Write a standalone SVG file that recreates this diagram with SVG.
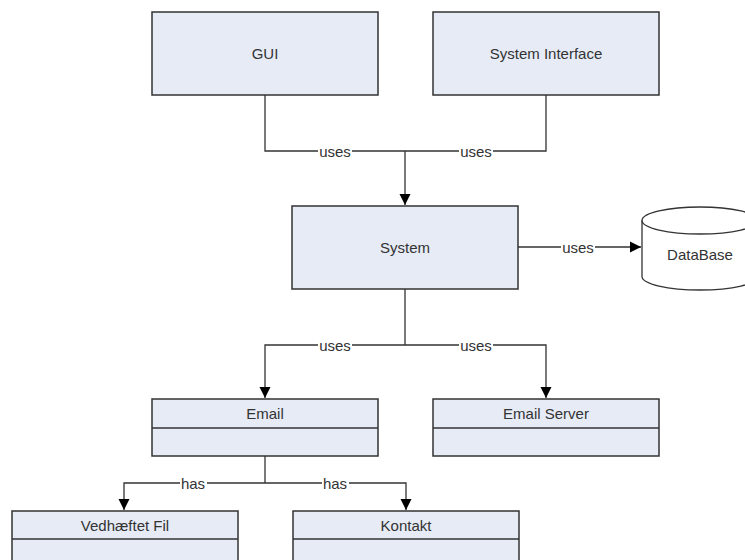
<svg xmlns="http://www.w3.org/2000/svg" width="745" height="560" viewBox="0 0 745 560">
  <style>
    .box { fill: #E6EBF6; stroke: #333; stroke-width: 1.5; }
    .div { stroke: #333; stroke-width: 1.5; }
    .lbl { font-family: "Liberation Sans", Arial, sans-serif; font-size: 15px; fill: #333; text-anchor: middle; dominant-baseline: central; }
    .edge { fill: none; stroke: #333; stroke-width: 1.3; }
    .bg { fill: #fff; }
  </style>
  <defs>
    <marker id="arrow" markerWidth="12" markerHeight="14" refX="11" refY="7" orient="auto" markerUnits="userSpaceOnUse">
      <path d="M0,1.5 L11,7 L0,12.5 Z" fill="#000"/>
    </marker>
  </defs>
  <rect width="745" height="560" fill="#fff"/>

  <g id="connectors">
    <path class="edge" d="M265,95 V151 H405"/>
    <path class="edge" d="M546,95 V151 H405"/>
    <path class="edge" d="M405,151 V205" marker-end="url(#arrow)"/>
    <path class="edge" d="M518,247 H641" marker-end="url(#arrow)"/>
    <path class="edge" d="M405,289 V345"/>
    <path class="edge" d="M405,345 H265 V398" marker-end="url(#arrow)"/>
    <path class="edge" d="M405,345 H546 V398" marker-end="url(#arrow)"/>
    <path class="edge" d="M265,456 V483"/>
    <path class="edge" d="M265,483 H124 V510" marker-end="url(#arrow)"/>
    <path class="edge" d="M265,483 H406 V510" marker-end="url(#arrow)"/>
    <rect class="bg" x="318" y="143" width="34" height="16"/>
    <text class="lbl" x="335" y="151">uses</text>
    <rect class="bg" x="459" y="143" width="34" height="16"/>
    <text class="lbl" x="476" y="151">uses</text>
    <rect class="bg" x="561" y="239" width="34" height="16"/>
    <text class="lbl" x="578" y="247">uses</text>
    <rect class="bg" x="318" y="337" width="34" height="16"/>
    <text class="lbl" x="335" y="345">uses</text>
    <rect class="bg" x="459" y="337" width="34" height="16"/>
    <text class="lbl" x="476" y="345">uses</text>
    <rect class="bg" x="180" y="475" width="27" height="16"/>
    <text class="lbl" x="193" y="483">has</text>
    <rect class="bg" x="322" y="475" width="27" height="16"/>
    <text class="lbl" x="335" y="483">has</text>
  </g>

  <g id="gui">
    <rect class="box" x="152" y="12" width="226" height="83"/>
    <text class="lbl" x="265" y="53">GUI</text>
  </g>
  <g id="system-interface">
    <rect class="box" x="433" y="12" width="226" height="83"/>
    <text class="lbl" x="546" y="53">System Interface</text>
  </g>
  <g id="system">
    <rect class="box" x="292" y="206" width="226" height="83"/>
    <text class="lbl" x="405" y="247">System</text>
  </g>
  <g id="database">
    <path d="M642,220.5 A58,13.5 0 0 1 758,220.5 V276.5 A58,13.5 0 0 1 642,276.5 Z" fill="#fff" stroke="#333" stroke-width="1.3"/>
    <path d="M642,220.5 A58,13.5 0 0 0 758,220.5" fill="none" stroke="#333" stroke-width="1.3"/>
    <text class="lbl" x="700" y="254">DataBase</text>
  </g>
  <g id="email">
    <rect class="box" x="152" y="399" width="226" height="57"/>
    <line class="div" x1="152" y1="428" x2="378" y2="428"/>
    <text class="lbl" x="265" y="413.5">Email</text>
  </g>
  <g id="email-server">
    <rect class="box" x="433" y="399" width="226" height="57"/>
    <line class="div" x1="433" y1="428" x2="659" y2="428"/>
    <text class="lbl" x="546" y="413.5">Email Server</text>
  </g>
  <g id="vedhaeftet-fil">
    <rect class="box" x="12" y="511" width="226" height="60"/>
    <line class="div" x1="12" y1="539" x2="238" y2="539"/>
    <text class="lbl" x="125" y="525">Vedhæftet Fil</text>
  </g>
  <g id="kontakt">
    <rect class="box" x="293" y="511" width="226" height="60"/>
    <line class="div" x1="293" y1="539" x2="519" y2="539"/>
    <text class="lbl" x="406" y="525">Kontakt</text>
  </g>
</svg>
